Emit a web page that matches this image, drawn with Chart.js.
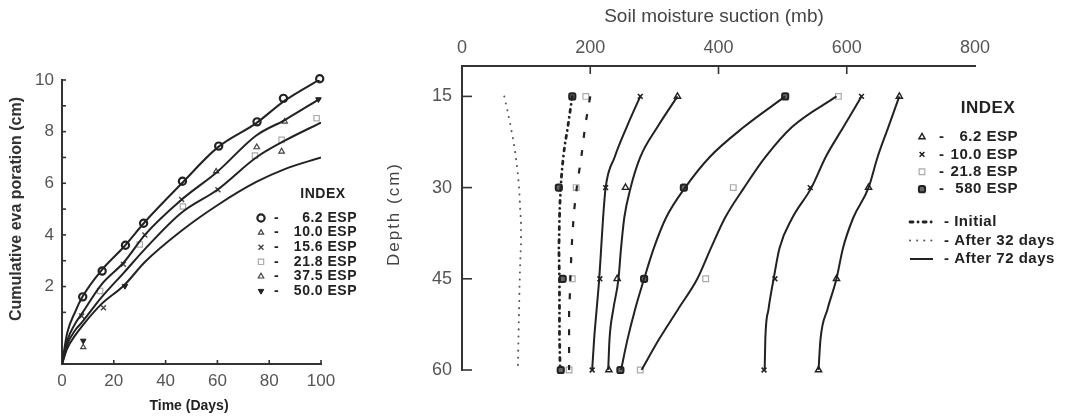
<!DOCTYPE html>
<html>
<head>
<meta charset="utf-8">
<title>Evaporation and soil moisture suction</title>
<script src="https://cdn.jsdelivr.net/npm/chart.js@4.4.1/dist/chart.umd.min.js"></script>
<style>
  html, body { margin: 0; padding: 0; background: #fff; }
  #page { position: relative; width: 1069px; height: 419px; overflow: hidden; background: #fff; }
  .panel { position: absolute; top: 0; height: 419px; }
  #left { left: 0; width: 380px; }
  #right { left: 380px; width: 689px; }
</style>
</head>
<body>
<div id="page">
  <div class="panel" id="left"><canvas id="evapChart"></canvas></div>
  <div class="panel" id="right"><canvas id="suctionChart"></canvas></div>
</div>
<script>
// ---------- Cumulative evaporation vs time ----------
const evapDays = [0, 2, 5, 8, 15, 24, 32, 46, 60, 75, 86, 100];
const evapCurve1 = [-1, 0.2, 1.0, 1.62, 2.6, 3.55, 4.5, 5.97, 7.38, 8.33, 9.2, 10.05];
const evapCurve2 = [-1, -0.1, 0.55, 1.0, 2.05, 2.95, 4.0, 5.35, 6.45, 7.85, 8.45, 9.3];
const evapCurve3 = [-1, -0.25, 0.3, 0.65, 1.55, 2.55, 3.45, 4.85, 5.75, 7.0, 7.65, 8.35];
const evapCurve4 = [-1, -0.4, 0.1, 0.5, 1.3, 2.05, 2.95, 4.15, 5.15, 6.05, 6.55, 7.0];

// observed points, one pair of arrays per ESP level
const esp62Days = [8, 15.5, 24.5, 31.5, 46.5, 60.5, 75.3, 85.5, 99.5];
const esp62Evap = [1.6, 2.6, 3.6, 4.45, 6.08, 7.44, 8.38, 9.29, 10.05];
const esp100Days = [8.2, 59.5, 86];
const esp100Evap = [-0.35, 6.46, 8.39];
const esp156Days = [7.6, 16, 23.7, 32, 46.2, 60.2];
const esp156Evap = [0.86, 1.18, 2.86, 4.0, 5.37, 5.75];
const esp218Days = [14.7, 30, 46.7, 74.5, 84.8, 98.3];
const esp218Evap = [1.83, 3.63, 5.1, 7.07, 7.68, 8.52];
const esp375Days = [75.2, 84.8];
const esp375Evap = [7.4, 7.23];
const esp500Days = [8.2, 24.3, 99];
const esp500Evap = [-0.1, 2.02, 9.25];

const evapTicksX = [0, 20, 40, 60, 80, 100];
const evapTicksY = [2, 4, 6, 8, 10];

// ---------- Soil moisture suction vs depth ----------
const depthSteps = [15, 20, 25, 30, 35, 40, 45, 50, 55, 60];
const suctionFineDots = [66, 76, 84, 89, 92, 92, 90, 89, 88, 87];
const suctionHeavyDots = [172, 165, 158, 154, 152, 151, 152, 152, 152, 153];
const suctionDashed = [200, 192, 186, 179, 174, 171, 169, 167, 167, 167];
const suctionA = [278, 257, 238, 224, 220, 217, 214, 210, 206, 203];
const suctionB = [336, 305, 278, 263, 253, 248, 244, 236, 230, 228];
const suctionC = [504, 440, 386, 348, 318, 299, 284, 270, 258, 248];
const suctionD = [584, 515, 473, 440, 410, 388, 367, 337, 307, 280];
const suctionE = [623, 595, 567, 545, 515, 495, 486, 478, 473, 472];
const suctionF = [682, 665, 648, 634, 610, 594, 584, 570, 559, 556];

const sampleDepths = [15, 30, 45, 60];
const tri62Hi = [682, 634, 584, 556];
const tri62Lo = [336, 255, 242, 229];
const x100Hi = [623, 543, 488, 471];
const x100Lo = [278, 224, 215, 203];
const sq218Hi = [587, 423, 380, 278];
const sq218Lo = [193, 178, 172, 167];
const sq580Hi = [504, 346, 284, 247];
const sq580Lo = [172, 151, 157, 154];

const suctionTicksX = [0, 200, 400, 600, 800];
const depthTicks = [15, 30, 45, 60];

const FONT = "'Liberation Sans', Arial, sans-serif";
const INK = '#222';

function pairs(xs, ys) {
  return xs.map((x, i) => ({ x: x, y: ys[i] }));
}

// short tick marks drawn on the inside of the axes
const innerTicks = {
  id: 'innerTicks',
  afterDraw(chart, args, opts) {
    const ctx = chart.ctx;
    const area = chart.chartArea;
    ctx.save();
    ctx.strokeStyle = '#333';
    ctx.lineWidth = 1.6;
    (opts.marks || []).forEach(m => {
      const scale = chart.scales[m.axis];
      m.values.forEach(v => {
        const p = scale.getPixelForValue(v);
        ctx.beginPath();
        if (scale.isHorizontal()) {
          const y0 = scale.position === 'top' ? area.top : area.bottom;
          const dir = scale.position === 'top' ? 1 : -1;
          ctx.moveTo(p, y0);
          ctx.lineTo(p, y0 + dir * m.len);
        } else {
          ctx.moveTo(area.left, p);
          ctx.lineTo(area.left + m.len, p);
        }
        ctx.stroke();
      });
    });
    ctx.restore();
  }
};

// axis titles placed by hand (the scanned lettering is widely spaced)
const captions = {
  id: 'captions',
  afterDraw(chart, args, opts) {
    const ctx = chart.ctx;
    (opts.items || []).forEach(c => {
      ctx.save();
      ctx.font = c.font;
      ctx.fillStyle = c.color || INK;
      ctx.letterSpacing = c.spacing || '0px';
      ctx.textAlign = 'center';
      ctx.textBaseline = 'middle';
      ctx.translate(c.x, c.y);
      if (c.rotate) ctx.rotate(c.rotate);
      ctx.fillText(c.text, 0, 0);
      ctx.restore();
    });
  }
};

// the "INDEX" key, drawn from the datasets' own styles
const indexLegend = {
  id: 'indexLegend',
  afterDraw(chart, args, o) {
    const ctx = chart.ctx;
    ctx.save();
    ctx.fillStyle = INK;
    ctx.textBaseline = 'middle';
    ctx.font = o.headFont;
    ctx.letterSpacing = o.spacing || '0px';
    ctx.textAlign = 'center';
    ctx.fillText('INDEX', o.headX, o.headY);
    ctx.font = o.font;
    o.items.forEach((it, i) => {
      const y = o.rowY + i * o.rowGap;
      const ds = chart.data.datasets[it.ds];
      ctx.save();
      ctx.fillStyle = ds.pointBackgroundColor;
      ctx.strokeStyle = ds.pointBorderColor;
      ctx.lineWidth = ds.pointBorderWidth;
      Chart.helpers.drawPoint(ctx, {
        pointStyle: ds.pointStyle,
        radius: ds.pointRadius,
        rotation: ds.pointRotation || 0,
        borderWidth: ds.pointBorderWidth
      }, o.markX, y);
      ctx.restore();
      ctx.textAlign = 'left';
      ctx.fillText('-', o.dashX, y);
      ctx.textAlign = 'right';
      ctx.fillText(it.label, o.textX, y);
    });
    (o.lines || []).forEach((it, i) => {
      const y = o.lineY + i * o.lineGap;
      const ds = chart.data.datasets[it.ds];
      ctx.save();
      ctx.strokeStyle = ds.borderColor;
      ctx.lineWidth = ds.borderWidth;
      ctx.lineCap = ds.borderCapStyle || 'butt';
      ctx.setLineDash(ds.borderDash || []);
      ctx.beginPath();
      ctx.moveTo(o.sampleX0, y);
      ctx.lineTo(o.sampleX1, y);
      ctx.stroke();
      ctx.restore();
      ctx.textAlign = 'left';
      ctx.fillText('- ' + it.label, o.lineTextX, y);
    });
    ctx.restore();
  }
};

function curve(xs, ys) {
  return {
    data: pairs(xs, ys), showLine: true, pointRadius: 0,
    borderColor: INK, borderWidth: 2, cubicInterpolationMode: 'monotone'
  };
}

function marks(xs, ys, style) {
  return Object.assign({
    data: pairs(xs, ys), showLine: false, clip: false,
    pointBackgroundColor: '#fff', pointBorderColor: INK, pointBorderWidth: 1.5, pointRadius: 3
  }, style);
}

new Chart(document.getElementById('evapChart'), {
  type: 'scatter',
  data: {
    datasets: [
      curve(evapDays, evapCurve1),
      curve(evapDays, evapCurve2),
      curve(evapDays, evapCurve3),
      curve(evapDays, evapCurve4),
      marks(esp62Days, esp62Evap, { pointStyle: 'circle', pointRadius: 3.6, pointBorderWidth: 2.2 }),
      marks(esp100Days, esp100Evap, { pointStyle: 'triangle', pointRadius: 3, pointBorderWidth: 1.2, pointBorderColor: '#444' }),
      marks(esp156Days, esp156Evap, { pointStyle: 'crossRot', pointRadius: 3.5, pointBorderWidth: 1.4, pointBorderColor: '#444' }),
      marks(esp218Days, esp218Evap, { pointStyle: 'rect', pointRadius: 3.8, pointBorderWidth: 1.2, pointBorderColor: '#aaa' }),
      marks(esp375Days, esp375Evap, { pointStyle: 'triangle', pointRadius: 3.2, pointBorderWidth: 1.2, pointBorderColor: '#444' }),
      marks(esp500Days, esp500Evap, { pointStyle: 'triangle', pointRotation: 180, pointRadius: 3.2, pointBorderWidth: 1, pointBackgroundColor: INK })
    ]
  },
  options: {
    responsive: true,
    maintainAspectRatio: false,
    animation: false,
    layout: { padding: { top: 80, right: 59, left: 0, bottom: 0 } },
    plugins: {
      legend: { display: false },
      tooltip: { enabled: false },
      innerTicks: {
        marks: [
          { axis: 'x', len: 4, values: [20, 40, 60, 80, 100] },
          { axis: 'y', len: 4, values: [1, 2, 3, 4, 5, 6, 7, 8, 9, 10] }
        ]
      },
      captions: {
        items: [
          { text: 'Time (Days)', x: 189, y: 406, font: 'bold 14px ' + FONT },
          { text: 'Cumulative eva poration (cm)', x: 17, y: 209, rotate: -Math.PI / 2, font: 'bold 16px ' + FONT, color: '#333' }
        ]
      },
      indexLegend: {
        headFont: 'bold 14px ' + FONT, headX: 323, headY: 194, spacing: '0.5px',
        font: 'bold 14px ' + FONT, markX: 261, dashX: 274, textX: 357,
        rowY: 218, rowGap: 14.6,
        items: [
          { label: '6.2 ESP', ds: 4 },
          { label: '10.0 ESP', ds: 5 },
          { label: '15.6 ESP', ds: 6 },
          { label: '21.8 ESP', ds: 7 },
          { label: '37.5 ESP', ds: 8 },
          { label: '50.0 ESP', ds: 9 }
        ]
      }
    },
    scales: {
      x: {
        type: 'linear', min: 0, max: 100,
        afterBuildTicks: s => { s.ticks = evapTicksX.map(v => ({ value: v })); },
        afterFit: s => { s.height = 55; },
        grid: { drawOnChartArea: false, drawTicks: false },
        border: { color: '#333', width: 2 },
        ticks: { color: '#555', padding: 7, font: { family: FONT, size: 17 } }
      },
      y: {
        type: 'linear', min: -1, max: 10,
        afterBuildTicks: s => { s.ticks = evapTicksY.map(v => ({ value: v })); },
        afterFit: s => { s.width = 62; },
        grid: { drawOnChartArea: false, drawTicks: false },
        border: { color: '#333', width: 2 },
        ticks: { color: '#555', padding: 8, font: { family: FONT, size: 17 } }
      }
    }
  },
  plugins: [innerTicks, captions, indexLegend]
});

function profile(values, style) {
  return Object.assign({
    data: pairs(values, depthSteps), showLine: true, pointRadius: 0,
    borderColor: INK, borderWidth: 2, cubicInterpolationMode: 'monotone'
  }, style);
}

function samples(values, style) {
  return Object.assign({
    data: pairs(values, sampleDepths), showLine: false, clip: false,
    pointBackgroundColor: '#fff', pointBorderColor: INK, pointBorderWidth: 1.4, pointRadius: 3.2
  }, style);
}

const triStyle = { pointStyle: 'triangle', pointRadius: 3.6, pointBorderWidth: 1.4 };
const crossStyle = { pointStyle: 'crossRot', pointRadius: 3.4, pointBorderWidth: 1.6 };
const lightSqStyle = { pointStyle: 'rect', pointRadius: 4, pointBorderWidth: 1.2, pointBorderColor: '#aaa' };
const darkSqStyle = { pointStyle: 'rectRounded', pointRadius: 3.6, pointBorderWidth: 2, pointBackgroundColor: '#666' };

new Chart(document.getElementById('suctionChart'), {
  type: 'scatter',
  data: {
    datasets: [
      profile(suctionHeavyDots, { borderDash: [3, 5, 0.1, 5], borderWidth: 2.8, borderCapStyle: 'round' }),
      profile(suctionFineDots, { borderDash: [0.1, 7], borderWidth: 2, borderCapStyle: 'round', borderColor: '#555' }),
      profile(suctionA),
      profile(suctionDashed, { borderDash: [6, 12], borderWidth: 2.2 }),
      profile(suctionB),
      profile(suctionC),
      profile(suctionD),
      profile(suctionE),
      profile(suctionF),
      samples(tri62Hi, triStyle),
      samples(tri62Lo, triStyle),
      samples(x100Hi, crossStyle),
      samples(x100Lo, crossStyle),
      samples(sq218Hi, lightSqStyle),
      samples(sq218Lo, lightSqStyle),
      samples(sq580Hi, darkSqStyle),
      samples(sq580Lo, darkSqStyle)
    ]
  },
  options: {
    responsive: true,
    maintainAspectRatio: false,
    animation: false,
    layout: { padding: { top: 0, right: 94, left: 0, bottom: 49 } },
    plugins: {
      legend: { display: false },
      tooltip: { enabled: false },
      innerTicks: {
        marks: [
          { axis: 'x', len: 8, values: [200, 400, 600] },
          { axis: 'y', len: 10, values: depthTicks }
        ]
      },
      captions: {
        items: [
          { text: 'Soil moisture suction (mb)', x: 334, y: 17, font: '19px ' + FONT, color: '#444' },
          { text: 'Depth (cm)', x: 14, y: 214, rotate: -Math.PI / 2, font: '17px ' + FONT, color: '#444', spacing: '2px' }
        ]
      },
      indexLegend: {
        headFont: 'bold 17px ' + FONT, headX: 608, headY: 108, spacing: '0.5px',
        font: 'bold 15px ' + FONT, markX: 542, dashX: 559, textX: 638,
        rowY: 137, rowGap: 17.4,
        items: [
          { label: '6.2 ESP', ds: 9 },
          { label: '10.0 ESP', ds: 11 },
          { label: '21.8 ESP', ds: 13 },
          { label: '580 ESP', ds: 15 }
        ],
        lines: [
          { label: 'Initial', ds: 0 },
          { label: 'After 32 days', ds: 1 },
          { label: 'After 72 days', ds: 2 }
        ],
        lineY: 222, lineGap: 18.5, sampleX0: 530, sampleX1: 553, lineTextX: 564
      }
    },
    scales: {
      x: {
        type: 'linear', position: 'top', min: 0, max: 800,
        afterBuildTicks: s => { s.ticks = suctionTicksX.map(v => ({ value: v })); },
        afterFit: s => { s.height = 66; },
        grid: { drawOnChartArea: false, drawTicks: false },
        border: { color: '#333', width: 2 },
        ticks: { color: '#555', padding: 7, font: { family: FONT, size: 18 } }
      },
      y: {
        type: 'linear', reverse: true, min: 10, max: 60,
        afterBuildTicks: s => { s.ticks = depthTicks.map(v => ({ value: v })); },
        afterFit: s => { s.width = 82; },
        grid: { drawOnChartArea: false, drawTicks: false },
        border: { color: '#333', width: 2 },
        ticks: { color: '#555', padding: 10, font: { family: FONT, size: 18 } }
      }
    }
  },
  plugins: [innerTicks, captions, indexLegend]
});
</script>
</body>
</html>
